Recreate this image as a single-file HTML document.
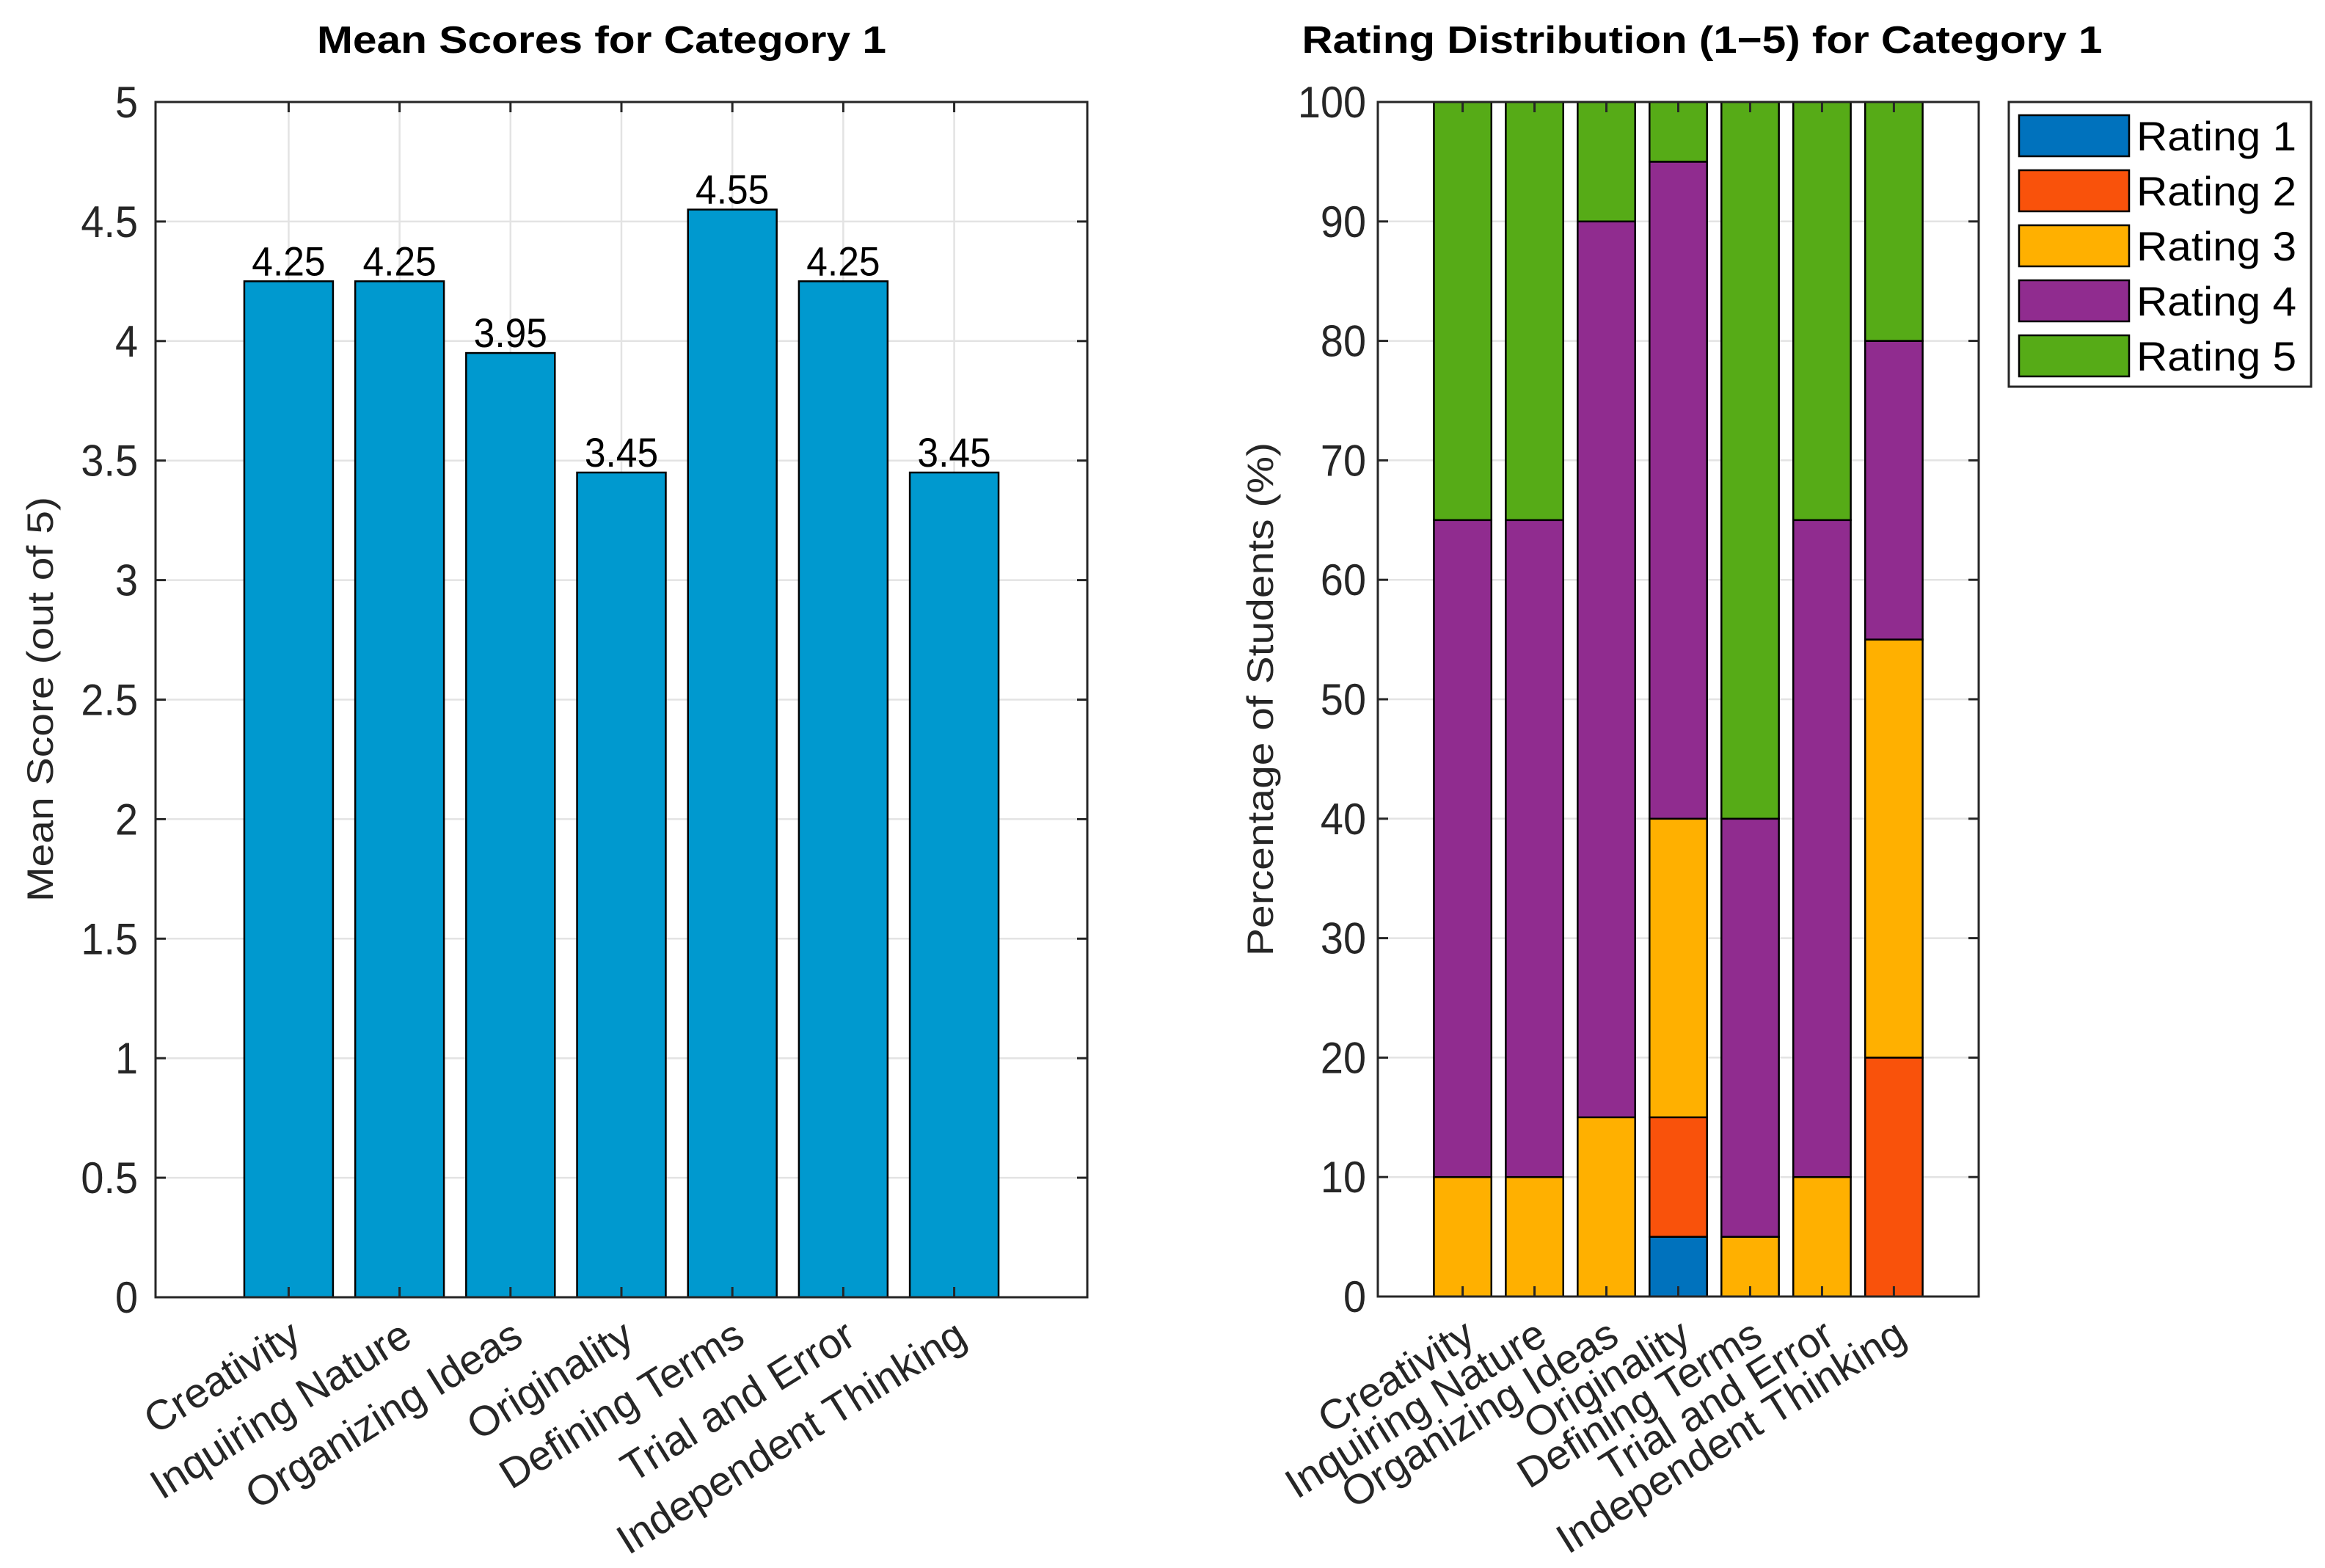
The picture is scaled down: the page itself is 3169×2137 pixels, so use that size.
<!DOCTYPE html>
<html><head><meta charset="utf-8"><style>
html,body{margin:0;padding:0;background:#fff}
svg{display:block;font-family:"Liberation Sans",Arial,sans-serif}
</style></head><body>
<svg id="chart" width="3169" height="2137" viewBox="0 0 3169 2137">
<g id="left"></g>
<g id="right"></g>
</svg>
<script>
const categories = ["Creativity","Inquiring Nature","Organizing Ideas","Originality","Defining Terms","Trial and Error","Independent Thinking"];
const meanScores = [4.25,4.25,3.95,3.45,4.55,4.25,3.45];
const meanTicks = [0,0.5,1,1.5,2,2.5,3,3.5,4,4.5,5];
const rating1 = [0,0,0,5,0,0,0];
const rating2 = [0,0,0,10,0,0,20];
const rating3 = [10,10,15,25,5,10,35];
const rating4 = [55,55,75,55,35,55,25];
const rating5 = [35,35,10,5,60,35,20];
const ratingNames = ["Rating 1","Rating 2","Rating 3","Rating 4","Rating 5"];
const pctTicks = [0,10,20,30,40,50,60,70,80,90,100];

const NS="http://www.w3.org/2000/svg";
function mk(parent,tag,attrs,text){const e=document.createElementNS(NS,tag);for(const k in attrs)e.setAttribute(k,attrs[k]);if(text!==undefined)e.textContent=text;parent.appendChild(e);return e;}

function drawAxes(g,L,R,T,B,xmin,xmax,ymax,ticks){
  const sx=v=>L+(v-xmin)/(xmax-xmin)*(R-L);
  const sy=v=>B-v/ymax*(B-T);
  ticks.forEach(t=>{const y=sy(t);
    let l=mk(g,'line',{x1:L,x2:R,y1:y,y2:y,stroke:'#e3e3e3','stroke-width':2.5});
    
    
  });
  categories.forEach((c,i)=>{const x=sx(i+1);
    let l=mk(g,'line',{x1:x,x2:x,y1:T,y2:B,stroke:'#e3e3e3','stroke-width':2.5});
    
    
  });
  return {sx,sy};
}
function drawFrame(g,L,R,T,B,sx,sy,ticks,fmt,labelRight){
  const f=mk(g,'rect',{x:L,y:T,width:R-L,height:B-T,fill:'none',stroke:'#262626','stroke-width':3});
  
  
  ticks.forEach(t=>{const y=sy(t);
    mk(g,'line',{x1:L,x2:L+14,y1:y,y2:y,stroke:'#262626','stroke-width':3});
    mk(g,'line',{x1:R-14,x2:R,y1:y,y2:y,stroke:'#262626','stroke-width':3});
    const tx=mk(g,'text',{x:labelRight,y:y+21,'text-anchor':'end','font-size':60,fill:'#262626',transform:`translate(${labelRight} 0) scale(0.93 1) translate(${-labelRight} 0)`},fmt(t));
    
    
  });
  categories.forEach((c,i)=>{const x=sx(i+1);
    mk(g,'line',{x1:x,x2:x,y1:B,y2:B-14,stroke:'#262626','stroke-width':3});
    mk(g,'line',{x1:x,x2:x,y1:T,y2:T+14,stroke:'#262626','stroke-width':3});
    const t=mk(g,'text',{x:x+20,y:B+62,'text-anchor':'end','font-size':57,fill:'#262626',transform:`rotate(-32 ${x+20} ${B+62})`},c);
    
    
  });
}

// LEFT
(function(){
  const g=document.getElementById('left');
  const L=212,R=1482,T=139,B=1768;
  const {sx,sy}=drawAxes(g,L,R,T,B,-0.2,8.2,5,meanTicks);
  const w=0.8*(R-L)/8.4;
  meanScores.forEach((v,i)=>{
    const x=sx(i+1);
    const r=mk(g,'rect',{x:x-w/2,y:sy(v),width:w,height:sy(0)-sy(v),fill:'#0099CF',stroke:'#000','stroke-width':2.5});
    
    
    const t=mk(g,'text',{x:x,y:sy(v)-8,'text-anchor':'middle','font-size':56,fill:'#000',transform:`translate(${x} 0) scale(0.92 1) translate(${-x} 0)`},v.toFixed(2));
    
    
  });
  drawFrame(g,L,R,T,B,sx,sy,meanTicks,t=>String(t),188);
  const tl=mk(g,'text',{x:820,y:72,'text-anchor':'middle','font-size':52,'font-weight':'bold',fill:'#000',textLength:776,lengthAdjust:'spacingAndGlyphs'},'Mean Scores for Category 1');
  
  
  const yl=mk(g,'text',{x:0,y:0,'text-anchor':'middle','font-size':50,fill:'#262626',transform:'translate(72 953) rotate(-90)',textLength:552,lengthAdjust:'spacingAndGlyphs'},'Mean Score (out of 5)');
  
  
})();

// RIGHT
(function(){
  const g=document.getElementById('right');
  const L=1878,R=2697,T=139,B=1767;
  const {sx,sy}=drawAxes(g,L,R,T,B,-0.18,8.18,100,pctTicks);
  const w=0.8*(R-L)/8.36;
  const series=[rating1,rating2,rating3,rating4,rating5];
  const colors=['#0072BD','#F9520B','#FFB000','#902C8F','#56AB17'];
  categories.forEach((c,i)=>{
    let acc=0;const x=sx(i+1);
    series.forEach((s,k)=>{
      const v=s[i];
      if(v>0){
        const r=mk(g,'rect',{x:x-w/2,y:sy(acc+v),width:w,height:sy(acc)-sy(acc+v),fill:colors[k],stroke:'#000','stroke-width':2.5});
        
        
      }
      acc+=v;
    });
  });
  drawFrame(g,L,R,T,B,sx,sy,pctTicks,t=>String(t),1862);
  const tl=mk(g,'text',{x:2320,y:72,'text-anchor':'middle','font-size':52,'font-weight':'bold',fill:'#000',textLength:1091,lengthAdjust:'spacingAndGlyphs'},'Rating Distribution (1\u22125) for Category 1');
  
  
  const yl=mk(g,'text',{x:0,y:0,'text-anchor':'middle','font-size':50,fill:'#262626',transform:'translate(1735 953) rotate(-90)',textLength:700,lengthAdjust:'spacingAndGlyphs'},'Percentage of Students (%)');
  
  
  const lg=mk(g,'g',{});
  
  
  mk(lg,'rect',{x:2738,y:139,width:412,height:388,fill:'#fff',stroke:'#262626','stroke-width':3});
  ratingNames.forEach((n,k)=>{
    const cy=185+k*75;
    const e=mk(lg,'g',{});
    
    
    mk(e,'rect',{x:2752,y:cy-28,width:150,height:56,fill:colors[k],stroke:'#000','stroke-width':2.5});
    mk(e,'text',{x:2912,y:cy+20,'font-size':56,fill:'#000',textLength:218,lengthAdjust:'spacingAndGlyphs'},n);
  });
})();
</script>
</body></html>
